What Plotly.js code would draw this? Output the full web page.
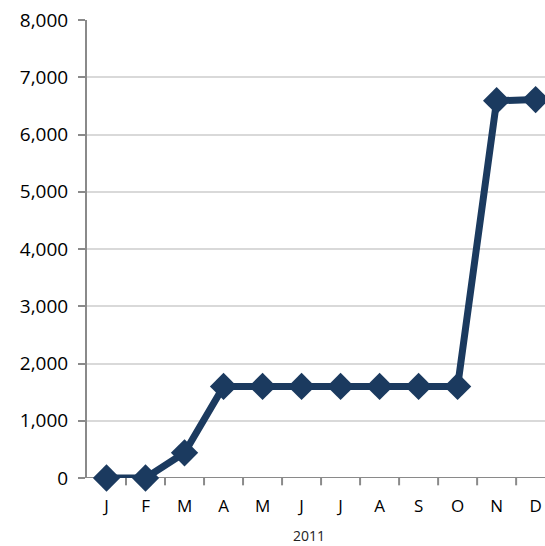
<!DOCTYPE html>
<html>
<head>
<meta charset="utf-8">
<script src="https://cdn.plot.ly/plotly-3.0.1.min.js"></script>
<style>html,body{margin:0;padding:0;background:#fff;}#chart{width:545px;height:546px;}</style>
</head>
<body>
<div id="chart"></div>
<script>
var months = ["J","F","M","A","M","J","J","A","S","O","N","D"];
var values = [0, 0, 440, 1600, 1600, 1600, 1600, 1600, 1600, 1600, 6590, 6610];
var yearLabel = "2011";

var xIdx = months.map(function(_, i){ return i; });

var trace = {
  x: xIdx,
  y: values,
  type: "scatter",
  mode: "lines+markers",
  line: {color: "#1b3a5f", width: 7},
  marker: {symbol: "diamond", size: 21, color: "#1b3a5f"},
  hoverinfo: "skip",
  cliponaxis: false
};

var layout = {
  width: 545, height: 546,
  margin: {l: 87, r: 0, t: 20, b: 68},
  paper_bgcolor: "#fff", plot_bgcolor: "#fff",
  showlegend: false,
  font: {family: "Open Sans, Noto Sans, sans-serif", color: "#000", size: 18},
  xaxis: {
    range: [-0.5, 11.24],
    tickmode: "array",
    tickvals: xIdx,
    ticktext: months,
    showgrid: false,
    zeroline: false,
    showline: false,
    ticks: "",
    ticklabelstandoff: 16,
    tickfont: {size: 17, color: "#000"},
    fixedrange: true
  },
  yaxis: {
    range: [0, 8000],
    tickvals: [0,1000,2000,3000,4000,5000,6000,7000,8000],
    tickformat: ",d",
    showgrid: true,
    gridcolor: "#d9d9d9",
    gridwidth: 2,
    zeroline: false,
    showline: true,
    linecolor: "#8a8a8a",
    linewidth: 2,
    ticks: "outside",
    ticklen: 7,
    tickwidth: 2,
    tickcolor: "#8a8a8a",
    ticklabelstandoff: 6,
    tickfont: {size: 19, color: "#000"},
    fixedrange: true
  },
  shapes: [
    {type: "line", xref: "paper", yref: "y", x0: 0, x1: 1, y0: 0, y1: 0,
     line: {color: "#8a8a8a", width: 2}, layer: "below"}
  ].concat(xIdx.slice(1).map(function(i){
    return {type: "line", xref: "x", yref: "paper", x0: i - 0.5, x1: i - 0.5,
            y0: 0, y1: -0.016, line: {color: "#8a8a8a", width: 2}, layer: "below"};
  })),
  annotations: [
    {text: yearLabel, xref: "paper", yref: "paper", x: 0.485, y: 0, yshift: -57,
     showarrow: false, font: {size: 14, color: "#222"}, xanchor: "center", yanchor: "middle"}
  ]
};

Plotly.newPlot("chart", [trace], layout, {displayModeBar: false, staticPlot: true});
</script>
</body>
</html>
